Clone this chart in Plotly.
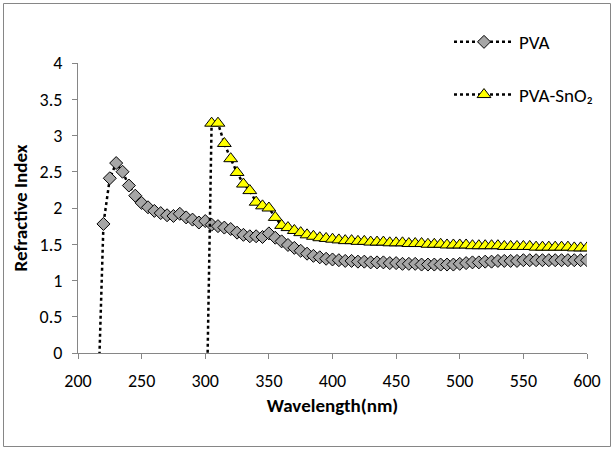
import plotly.graph_objects as go

# PVA
pva_wl = [215, 220, 225, 230, 235, 240, 245, 250, 255, 260, 265, 270, 275, 280, 285, 290, 295,
          300, 305, 310, 315, 320, 325, 330, 335, 340, 345, 350, 355, 360, 365, 370, 375, 380,
          385, 390, 395, 400, 405, 410, 415, 420, 425, 430, 435, 440, 445, 450, 455, 460, 465,
          470, 475, 480, 485, 490, 495, 500, 505, 510, 515, 520, 525, 530, 535, 540, 545, 550,
          555, 560, 565, 570, 575, 580, 585, 590, 595, 600]
pva_n = [-1.10, 1.78, 2.41, 2.62, 2.50, 2.31, 2.17, 2.07, 2.01, 1.96, 1.93, 1.90, 1.89, 1.92,
         1.87, 1.84, 1.80, 1.82, 1.77, 1.75, 1.73, 1.71, 1.66, 1.63, 1.61, 1.61, 1.60, 1.65,
         1.59, 1.54, 1.49, 1.45, 1.41, 1.37, 1.34, 1.32, 1.30, 1.29, 1.28, 1.27, 1.27, 1.26,
         1.26, 1.25, 1.25, 1.25, 1.24, 1.24, 1.23, 1.23, 1.23, 1.22, 1.22, 1.22, 1.22, 1.22,
         1.22, 1.23, 1.24, 1.25, 1.25, 1.26, 1.26, 1.27, 1.27, 1.27, 1.27, 1.28, 1.28, 1.28,
         1.28, 1.28, 1.28, 1.28, 1.28, 1.28, 1.28, 1.28]

# PVA-SnO2
sno2_wl = [300, 305, 310, 315, 320, 325, 330, 335, 340, 345, 350, 355, 360, 365, 370, 375,
           380, 385, 390, 395, 400, 405, 410, 415, 420, 425, 430, 435, 440, 445, 450, 455,
           460, 465, 470, 475, 480, 485, 490, 495, 500, 505, 510, 515, 520, 525, 530, 535,
           540, 545, 550, 555, 560, 565, 570, 575, 580, 585, 590, 595, 600]
sno2_n = [-1.90, 3.17, 3.17, 2.89, 2.68, 2.49, 2.33, 2.24, 2.08, 2.03, 2.00, 1.87, 1.76, 1.73,
          1.69, 1.66, 1.63, 1.61, 1.59, 1.58, 1.57, 1.56, 1.55, 1.55, 1.54, 1.54, 1.53, 1.53,
          1.53, 1.52, 1.52, 1.52, 1.51, 1.51, 1.51, 1.50, 1.50, 1.50, 1.49, 1.49, 1.49, 1.49,
          1.48, 1.48, 1.48, 1.48, 1.48, 1.47, 1.47, 1.47, 1.47, 1.47, 1.46, 1.46, 1.46, 1.46,
          1.46, 1.46, 1.45, 1.45, 1.45]

x_ticks = [200, 250, 300, 350, 400, 450, 500, 550, 600]
y_ticks = [0, 0.5, 1, 1.5, 2, 2.5, 3, 3.5, 4]
y_tick_text = ["0", "0.5", "1", "1.5", "2", "2.5", "3", "3.5", "4"]

FONT = "Carlito, Calibri, Lato, sans-serif"

fig = go.Figure()
fig.add_trace(go.Scatter(
    x=pva_wl, y=pva_n, name="PVA", mode="lines+markers",
    line=dict(color="black", width=2.5, dash="dot"),
    marker=dict(symbol="diamond", size=10, color="#a6a6a6", line=dict(color="black", width=1)),
    legendgroup="a",
))
fig.add_trace(go.Scatter(
    x=sno2_wl, y=sno2_n, name="PVA-SnO₂", mode="lines+markers",
    line=dict(color="black", width=2.5, dash="dot"),
    marker=dict(symbol="triangle-up", size=12, color="#ffff00", line=dict(color="black", width=1)),
    legendgroup="b",
))

L, R, T, B = 78, 27, 63, 97
W, H = 614, 450
pw, ph = W - L - R, H - T - B

def px2paper_x(px):
    return (px - L) / pw

def px2paper_y(py):
    return (H - B - py) / ph

fig.update_layout(
    width=W, height=H,
    margin=dict(l=L, r=R, t=T, b=B),
    paper_bgcolor="white", plot_bgcolor="white",
    font=dict(family=FONT, size=18, color="black"),
    showlegend=True,
    legend=dict(
        x=px2paper_x(449), y=px2paper_y(23), xanchor="left", yanchor="top",
        font=dict(family=FONT, size=19, color="black"),
        bgcolor="rgba(0,0,0,0)", traceorder="grouped", tracegroupgap=25,
        itemwidth=60,
    ),
    xaxis=dict(
        range=[200, 600], tickmode="array", tickvals=x_ticks,
        showline=True, linecolor="#868686", linewidth=1,
        ticks="outside", ticklen=5, tickcolor="#868686",
        showgrid=False, zeroline=False, ticklabelstandoff=6,
        title=dict(text="<b>Wavelength(nm)</b>", font=dict(family=FONT, size=19), standoff=8),
        tickfont=dict(family=FONT, size=18),
    ),
    yaxis=dict(
        range=[0, 4], tickmode="array", tickvals=y_ticks, ticktext=y_tick_text,
        showline=True, linecolor="#868686", linewidth=1,
        ticks="outside", ticklen=5, tickcolor="#868686",
        showgrid=False, zeroline=False, ticklabelstandoff=6,
        title=dict(text="<b>Refractive Index</b>", font=dict(family=FONT, size=19), standoff=6),
        tickfont=dict(family=FONT, size=18),
    ),
    shapes=[dict(
        type="rect", xref="paper", yref="paper",
        x0=px2paper_x(3.5), x1=px2paper_x(610.5),
        y0=px2paper_y(446.5), y1=px2paper_y(3.5),
        line=dict(color="#868686", width=1), fillcolor="rgba(0,0,0,0)", layer="below",
    )],
)

fig.write_html("out.html")
